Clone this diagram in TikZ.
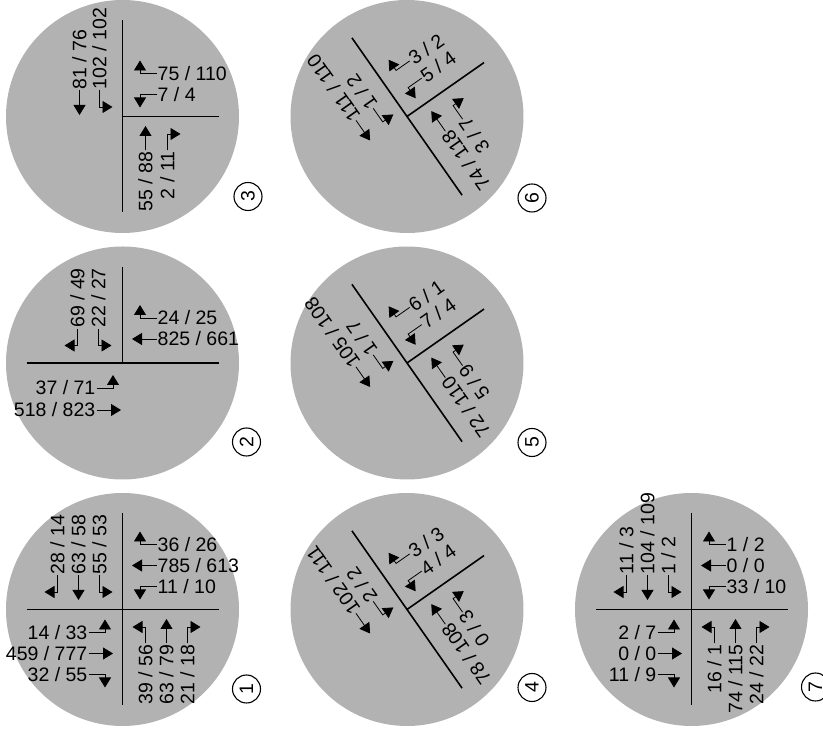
\documentclass[tikz,border=0pt]{standalone}
\usepackage{fontspec}
\setmainfont{Liberation Sans}
\usetikzlibrary{arrows.meta}
\definecolor{disk}{gray}{0.7}

% one movement, in the frame of its approach (traffic comes in from the right)
\newcommand{\upturn}[3]{%
  \node[count] (#1) at (34,#2) {#3};
  \coordinate (#1c) at (17.5,#2);
  \coordinate (#1t) at (17.5,#2+13);
  \draw[stem] (#1) -- (#1c) -- (#1t);}
\newcommand{\thru}[3]{%
  \node[count] (#1) at (34,#2) {#3};
  \coordinate (#1t) at (9.5,#2);
  \draw[stem] (#1) -- (#1t);}
\newcommand{\downturn}[3]{%
  \node[count] (#1) at (34,#2) {#3};
  \coordinate (#1c) at (17.5,#2);
  \coordinate (#1t) at (17.5,#2-13);
  \draw[stem] (#1) -- (#1c) -- (#1t);}

\begin{document}
\begin{tikzpicture}[x=1pt,y=1pt,
  count/.style={font=\fontsize{19.5}{20}\selectfont,inner sep=1pt,anchor=west},
  far/.style={count/.append style={rotate=180,anchor=east}},
  stem/.style={line width=0.8pt,-{Triangle[width=12pt,length=10pt]}},
  road/.style={line width=1.6pt},
  tag/.style={circle,draw,line width=1.1pt,rotate=90,minimum size=28pt,inner sep=0pt,
    font=\fontsize{19.5}{20}\selectfont}]
\useasboundingbox (0,0) rectangle (823,731);

% 1
\begin{scope}[shift={(122.5,121.5)},transform shape]
\fill[disk] (0,0) circle (116.5);
\draw[road] (0,96) -- (0,-96) (-96,0) -- (96,0);
\upturn{c1e1}{65}{36 / 26} \thru{c1e2}{44}{785 / 613} \downturn{c1e3}{23}{11 / 10}
\begin{scope}[rotate=90]
\upturn{c1n1}{65}{28 / 14} \thru{c1n2}{44}{63 / 58} \downturn{c1n3}{23}{55 / 53}
\end{scope}
\begin{scope}[rotate=180,far]
\upturn{c1w1}{65}{32 / 55} \thru{c1w2}{44}{459 / 777} \downturn{c1w3}{23}{14 / 33}
\end{scope}
\begin{scope}[rotate=270,far]
\upturn{c1s1}{65}{21 / 18} \thru{c1s2}{44}{63 / 79} \downturn{c1s3}{23}{39 / 56}
\end{scope}
\end{scope}
\node[tag] (n1) at (246.5,42) {1};

% 2
\begin{scope}[shift={(122.5,368)},transform shape]
\fill[disk] (0,0) circle (116.5);
\draw[road] (0,96) -- (0,0) (-96,0) -- (96,0);
\upturn{c2e1}{45}{24 / 25} \thru{c2e2}{24}{825 / 661}
\begin{scope}[rotate=90]
\upturn{c2n1}{45}{69 / 49} \downturn{c2n2}{24}{22 / 27}
\end{scope}
\begin{scope}[rotate=180,far,shift={(-8,0)}]
\thru{c2w1}{47}{518 / 823} \downturn{c2w2}{25}{37 / 71}
\end{scope}
\end{scope}
\node[tag] (n2) at (246.5,289) {2};

% 3
\begin{scope}[shift={(122.5,614.5)},transform shape]
\fill[disk] (0,0) circle (116.5);
\draw[road] (0,96) -- (0,-96) (0,0) -- (96,0);
\upturn{c3e1}{43}{75 / 110} \downturn{c3e2}{22}{7 / 4}
\begin{scope}[rotate=90,shift={(-8,0)}]
\thru{c3n1}{43}{81 / 76} \downturn{c3n2}{23}{102 / 102}
\end{scope}
\begin{scope}[rotate=270,far]
\upturn{c3s1}{45}{2 / 11} \thru{c3s2}{23}{55 / 88}
\end{scope}
\end{scope}
\node[tag] (n3) at (248,534.5) {3};

% 4
\begin{scope}[shift={(407,121.5)},rotate=35,transform shape]
\fill[disk] (0,0) circle (116.5);
\draw[road] (0,96) -- (0,-96) (0,0) -- (94,0);
\upturn{c4e1}{44}{3 / 3} \downturn{c4e2}{23}{4 / 4}
\begin{scope}[rotate=90,shift={(-8,0)}]
\thru{c4n1}{44}{102 / 111} \downturn{c4n2}{23}{2 / 2}
\end{scope}
\begin{scope}[rotate=270,far]
\upturn{c4s1}{44}{0 / 3} \thru{c4s2}{23}{78 / 108}
\end{scope}
\end{scope}
\node[tag] (n4) at (532,43.5) {4};

% 5
\begin{scope}[shift={(407,368)},rotate=35,transform shape]
\fill[disk] (0,0) circle (116.5);
\draw[road] (0,96) -- (0,-96) (0,0) -- (94,0);
\upturn{c5e1}{44}{6 / 1} \downturn{c5e2}{23}{7 / 4}
\begin{scope}[rotate=90,shift={(-8,0)}]
\thru{c5n1}{44}{105 / 108} \downturn{c5n2}{23}{1 / 7}
\end{scope}
\begin{scope}[rotate=270,far]
\upturn{c5s1}{44}{5 / 9} \thru{c5s2}{23}{72 / 110}
\end{scope}
\end{scope}
\node[tag] (n5) at (532,288.5) {5};

% 6
\begin{scope}[shift={(407,614.5)},rotate=35,transform shape]
\fill[disk] (0,0) circle (116.5);
\draw[road] (0,96) -- (0,-96) (0,0) -- (94,0);
\upturn{c6e1}{44}{3 / 2} \downturn{c6e2}{23}{5 / 4}
\begin{scope}[rotate=90,shift={(-8,0)}]
\thru{c6n1}{44}{111 / 110} \downturn{c6n2}{23}{1 / 2}
\end{scope}
\begin{scope}[rotate=270,far]
\upturn{c6s1}{44}{3 / 7} \thru{c6s2}{23}{74 / 118}
\end{scope}
\end{scope}
\node[tag] (n6) at (532,533) {6};

% 7
\begin{scope}[shift={(691.5,121.5)},transform shape]
\fill[disk] (0,0) circle (116.5);
\draw[road] (0,96) -- (0,-96) (-96,0) -- (96,0);
\upturn{c7e1}{65}{1 / 2} \thru{c7e2}{44}{0 / 0} \downturn{c7e3}{23}{33 / 10}
\begin{scope}[rotate=90]
\upturn{c7n1}{65}{11 / 3} \thru{c7n2}{44}{104 / 109} \downturn{c7n3}{23}{1 / 2}
\end{scope}
\begin{scope}[rotate=180,far]
\upturn{c7w1}{65}{11 / 9} \thru{c7w2}{44}{0 / 0} \downturn{c7w3}{23}{2 / 7}
\end{scope}
\begin{scope}[rotate=270,far]
\upturn{c7s1}{65}{24 / 22} \thru{c7s2}{44}{74 / 115} \downturn{c7s3}{23}{16 / 1}
\end{scope}
\end{scope}
\node[tag] (n7) at (815.5,44) {7};
\end{tikzpicture}
\end{document}
